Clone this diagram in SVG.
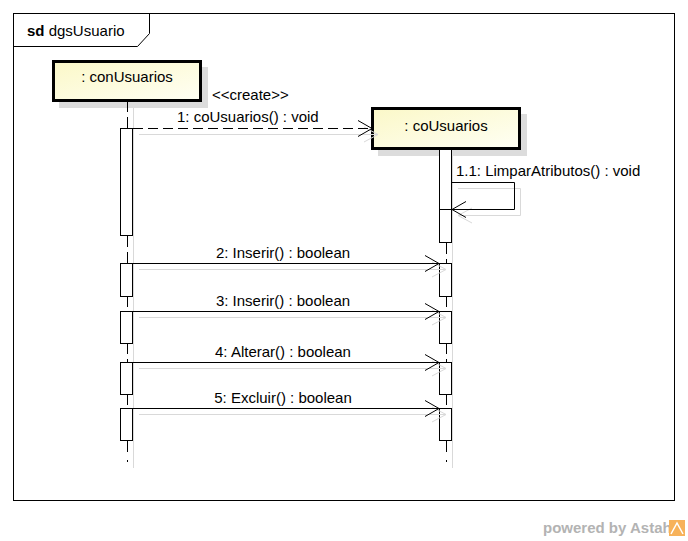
<svg xmlns="http://www.w3.org/2000/svg" width="688" height="541" viewBox="0 0 688 541">
<style>
text{font-family:"Liberation Sans",Arial,sans-serif;font-size:15px;fill:#000}
.line{stroke:#000;stroke-width:1;fill:none}
.shadow{stroke:#d9d9d9;stroke-width:1;fill:none}
.bar{fill:#fff;stroke:#000;stroke-width:1}
.life{stroke:#000;stroke-width:1;stroke-dasharray:11,5;fill:none}
.box{fill:url(#yg);stroke:#000;stroke-width:3}
.bshadow{fill:#dcdcdc}
</style>
<defs>
<linearGradient id="yg" x1="0" y1="0" x2="1" y2="1">
<stop offset="0" stop-color="#fbf8c8"/>
<stop offset="1" stop-color="#fffff4"/>
</linearGradient>
</defs>
<rect x="0" y="0" width="688" height="541" fill="#fff"/>
<g id="frame">
<rect x="13.5" y="13.5" width="661" height="487" fill="none" stroke="#000"/>
<path d="M13.5,46.5 H137.5 L149.5,33.5 V13.5" fill="none" stroke="#000"/>
<text x="27" y="36"><tspan font-weight="bold">sd</tspan> dgsUsuario</text>
</g>
<g id="conUsuarios">
<rect class="bshadow" x="59" y="67" width="149" height="41"/>
<line class="shadow" x1="133.5" y1="108" x2="133.5" y2="468"/>
<rect class="box" x="53.5" y="61.5" width="147" height="39"/>
<text x="127" y="82" text-anchor="middle">: conUsuarios</text>
<path class="life" d="M127.5,101 V128 M127.5,236 V263 M127.5,296 V311 M127.5,343 V362 M127.5,394 V408 M127.5,441 V456"/>
<line class="line" x1="127.5" y1="460" x2="127.5" y2="462"/>
<rect class="bar" x="120.5" y="128.5" width="12" height="107"/>
<rect class="bar" x="120.5" y="263.5" width="12" height="33"/>
<rect class="bar" x="120.5" y="311.5" width="12" height="32"/>
<rect class="bar" x="120.5" y="362.5" width="12" height="32"/>
<rect class="bar" x="120.5" y="408.5" width="12" height="32"/>
</g>
<g id="coUsuarios">
<rect class="bshadow" x="378" y="114" width="149" height="42"/>
<line class="shadow" x1="452.5" y1="156" x2="452.5" y2="468"/>
<rect class="box" x="372.5" y="108.5" width="147" height="40"/>
<text x="446" y="131" text-anchor="middle">: coUsuarios</text>
<path class="life" d="M446.5,243 V263 M446.5,296 V311 M446.5,343 V362 M446.5,394 V408 M446.5,441 V454"/>
<line class="line" x1="446.5" y1="460" x2="446.5" y2="462"/>
<rect class="bar" x="439.5" y="149.5" width="12" height="93"/>
<line class="line" x1="439.5" y1="209.5" x2="452" y2="209.5"/>
<rect class="bar" x="439.5" y="263.5" width="12" height="33"/>
<rect class="bar" x="439.5" y="311.5" width="12" height="32"/>
<rect class="bar" x="439.5" y="362.5" width="12" height="32"/>
<rect class="bar" x="439.5" y="408.5" width="12" height="32"/>
</g>
<g id="connectors">
<!-- shadows -->
<path class="shadow" d="M139,134.5 H378 M364,127 L378,134.5 L364,142"/>
<path class="shadow" d="M458,188.5 H520.5 V215.5 H458 M472,208 L458,215.5 L472,223"/>
<path class="shadow" d="M139,269.5 H446 M432,262 L446,269.5 L432,277"/>
<path class="shadow" d="M139,317.5 H446 M432,310 L446,317.5 L432,325"/>
<path class="shadow" d="M139,368.5 H446 M432,361 L446,368.5 L432,376"/>
<path class="shadow" d="M139,414.5 H446 M432,407 L446,414.5 L432,422"/>
<!-- messages -->
<path class="line" d="M133,128.5 H371" stroke-dasharray="10,5"/>
<path class="line" d="M358,120.5 L372,128.5 L358,136.5"/>
<text x="212" y="100" font-size="15">&lt;&lt;create&gt;&gt;</text>
<text x="177" y="122">1: coUsuarios() : void</text>
<path class="line" d="M452,182.5 H514.5 V209.5 H452 M466,201.5 L452,209.5 L466,217.5"/>
<text x="456" y="176">1.1: LimparAtributos() : void</text>
<path class="line" d="M133,263.5 H439 M425,255.5 L439,263.5 L425,271.5"/>
<text x="283" y="258" text-anchor="middle">2: Inserir() : boolean</text>
<path class="line" d="M133,311.5 H439 M425,303.5 L439,311.5 L425,319.5"/>
<text x="283" y="306" text-anchor="middle">3: Inserir() : boolean</text>
<path class="line" d="M133,362.5 H439 M425,354.5 L439,362.5 L425,370.5"/>
<text x="283" y="357" text-anchor="middle">4: Alterar() : boolean</text>
<path class="line" d="M133,408.5 H439 M425,400.5 L439,408.5 L425,416.5"/>
<text x="283" y="403" text-anchor="middle">5: Excluir() : boolean</text>
</g>
<g id="watermark">
<text x="543" y="533" font-size="14" font-weight="bold" style="fill:#b3b3b3">powered by Astah</text>
<rect x="669" y="520" width="16" height="16" fill="#f7b25a"/>
<path d="M671,534 L677,523 L683,534" fill="none" stroke="#fff" stroke-width="1.5"/>
</g>
</svg>
